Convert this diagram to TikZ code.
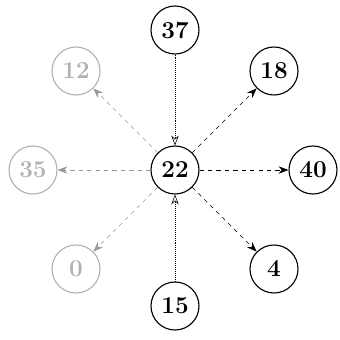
\documentclass[tikz,border=0pt]{standalone}
\usepackage{tikz}
\usetikzlibrary{arrows.meta}

\tikzset{
  num/.style={circle, draw, thick, minimum size=1.2cm, inner sep=0pt, font=\LARGE\bfseries},
  faint/.style={num, draw=black!30, text=black!30},
  outarrow/.style={-{Stealth[length=7pt]}, dashed},
  inarrow/.style={-{Stealth[length=7pt, open]}, densely dotted}
}

\begin{document}
\begin{tikzpicture}
  \useasboundingbox (-4.375,-4.25) rectangle (4.1,4.25);

  \node [num] (n22) at (0,0) {22};

  \node [num]   (n37) at (90:3.5)  {37};
  \node [num]   (n18) at (45:3.5)  {18};
  \node [num]   (n40) at (0:3.45)  {40};
  \node [num]   (n4)  at (-45:3.5) {4};
  \node [num]   (n15) at (-90:3.4) {15};
  \node [faint] (n0)  at (-135:3.5) {0};
  \node [faint] (n35) at (180:3.55) {35};
  \node [faint] (n12) at (135:3.5) {12};

  % into the centre
  \draw [inarrow] (n37) -- (n22);
  \draw [inarrow] (n15) -- (n22);

  % out of the centre
  \draw [outarrow] (n22) -- (n18);
  \draw [outarrow] (n22) -- (n40);
  \draw [outarrow] (n22) -- (n4);
  \draw [outarrow, black!40] (n22) -- (n0);
  \draw [outarrow, black!40] (n22) -- (n35);
  \draw [outarrow, black!40] (n22) -- (n12);
\end{tikzpicture}
\end{document}
